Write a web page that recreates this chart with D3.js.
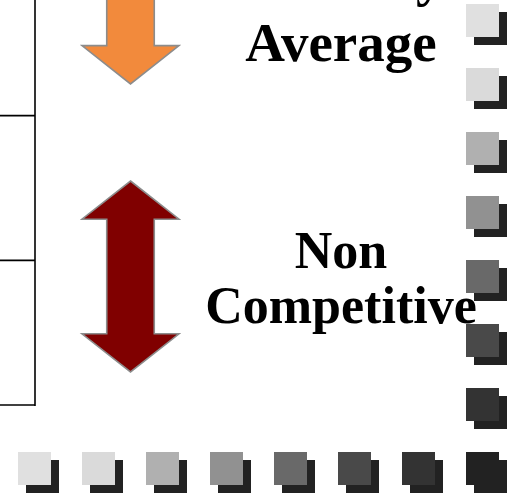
<!DOCTYPE html>
<html>
<head>
<meta charset="utf-8">
<script src="https://cdn.jsdelivr.net/npm/d3@7"></script>
<style>
  html, body { margin: 0; padding: 0; background: #fff; }
  svg { display: block; }
</style>
</head>
<body>
<svg id="chart" width="518" height="496"></svg>
<script>
// Grey ramp of the decorative tile border, lightest to darkest (the corner tile).
const tileShades = ["#e0e0e0", "#dadada", "#b0b0b0", "#919191", "#696969", "#494949", "#333333", "#222222"];
const tileSteps = [0, 1, 2, 3, 4, 5, 6, 7];

// Rating labels, one entry per line of text.
const upperLabel = ["Industry", "Average"];
const lowerLabel = ["Non", "Competitive"];

// Row dividers of the table on the left edge (row index).
const tableRows = [1, 2, 3];

// Arrow outlines in unit space: x across the arrow [-1, 1], y along it [0, 1].
const downArrowPts = [[-0.49, -0.6], [0.49, -0.6], [0.49, 0.4], [1, 0.4], [0, 1], [-1, 0.4], [-0.49, 0.4]];
const doubleArrowPts = [[0, 0], [1, 0.2], [0.49, 0.2], [0.49, 0.8], [1, 0.8], [0, 1], [-1, 0.8], [-0.49, 0.8], [-0.49, 0.2], [-1, 0.2]];

const svg = d3.select("#chart");

// ---- table edge on the left ----
const rowY = d3.scaleLinear().domain([0, 3]).range([-29, 405]);
const tableX = 35;
svg.append("line")
  .attr("x1", tableX).attr("x2", tableX)
  .attr("y1", 0).attr("y2", rowY(3) + 1)
  .attr("stroke", "#000").attr("stroke-width", 1.6);
svg.selectAll("line.row").data(tableRows).enter().append("line")
  .attr("class", "row")
  .attr("x1", 0).attr("x2", tableX)
  .attr("y1", d => rowY(d)).attr("y2", d => rowY(d))
  .attr("stroke", "#000").attr("stroke-width", 1.6);

// ---- arrows ----
function arrow(points, cx, halfW, y0, y1, fill) {
  const ax = d3.scaleLinear().domain([-1, 1]).range([cx - halfW, cx + halfW]);
  const ay = d3.scaleLinear().domain([0, 1]).range([y0, y1]);
  const line = d3.line().x(p => ax(p[0])).y(p => ay(p[1])).curve(d3.curveLinearClosed);
  svg.append("path")
    .attr("d", line(points))
    .attr("fill", fill)
    .attr("stroke", "#8c8c8c")
    .attr("stroke-width", 1.6)
    .attr("stroke-linejoin", "miter");
}
arrow(downArrowPts, 130.5, 48.5, 20, 84, "#f28a3c");
arrow(doubleArrowPts, 130.5, 48.5, 181, 372, "#800000");

// ---- labels ----
const textG = svg.append("g")
  .attr("font-family", "'Liberation Serif', 'Times New Roman', serif")
  .attr("font-weight", "bold")
  .attr("fill", "#000")
  .attr("text-anchor", "middle");
textG.selectAll("text.upper").data(upperLabel).enter().append("text")
  .attr("class", "upper")
  .attr("x", 341)
  .attr("y", (d, i) => -5 + i * 66)
  .attr("font-size", 55)
  .text(d => d);
textG.selectAll("text.lower").data(lowerLabel).enter().append("text")
  .attr("class", "lower")
  .attr("x", 341)
  .attr("y", (d, i) => 268 + i * 55)
  .attr("font-size", 52)
  .text(d => d);

// ---- tile border: bottom row and right column share the dark corner ----
const tileX = d3.scaleLinear().domain([0, 7]).range([18, 466]);
const tileY = d3.scaleLinear().domain([0, 7]).range([4, 452]);
const tileSize = 33, shadowOff = 8;
const tiles = tileSteps.map(i => ({ x: tileX(i), y: tileY(7), c: tileShades[i] }))
  .concat(tileSteps.slice(0, 7).map(i => ({ x: tileX(7), y: tileY(i), c: tileShades[i] })));

const tileG = svg.append("g");
tileG.selectAll("rect.shadow").data(tiles).enter().append("rect")
  .attr("class", "shadow")
  .attr("x", d => d.x + shadowOff).attr("y", d => d.y + shadowOff)
  .attr("width", tileSize).attr("height", tileSize)
  .attr("fill", "#222222");
tileG.selectAll("rect.face").data(tiles).enter().append("rect")
  .attr("class", "face")
  .attr("x", d => d.x).attr("y", d => d.y)
  .attr("width", tileSize).attr("height", tileSize)
  .attr("fill", d => d.c);
</script>
</body>
</html>
